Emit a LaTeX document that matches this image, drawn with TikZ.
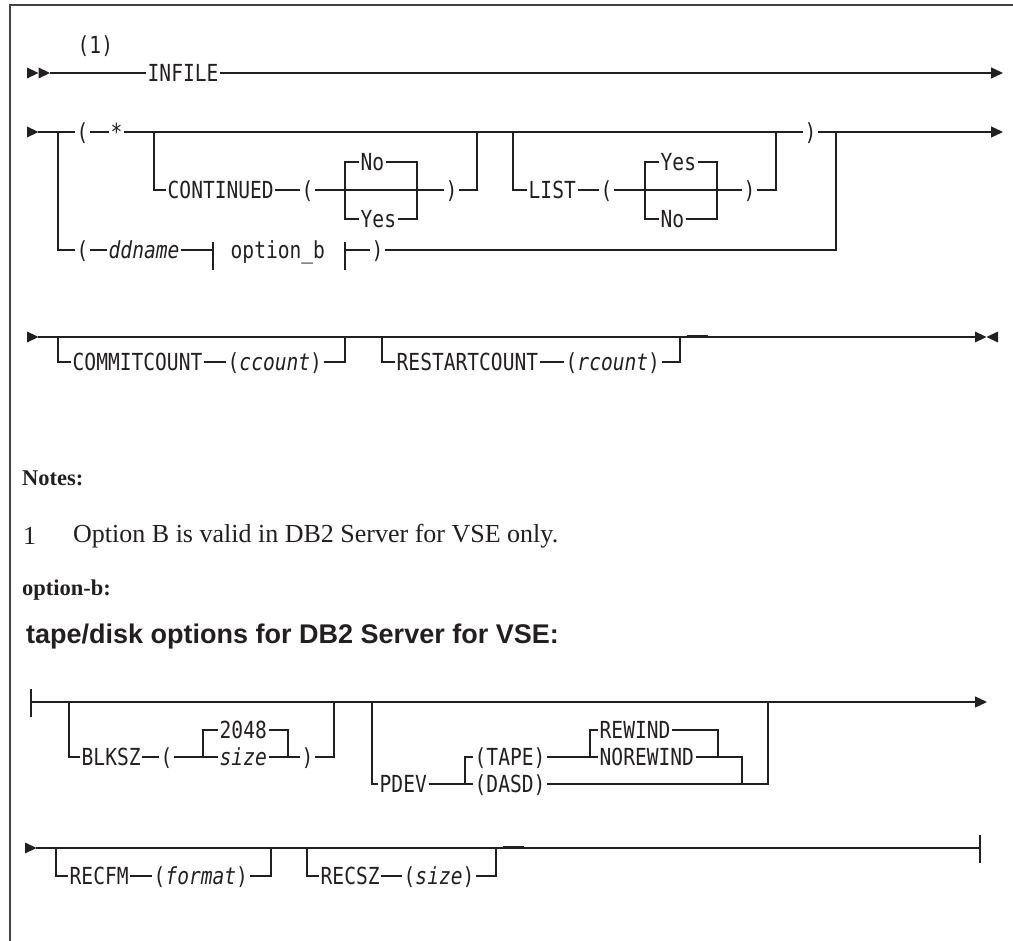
\documentclass[tikz,border=0pt]{standalone}
\usepackage{fontspec}
\usetikzlibrary{arrows.meta,calc}
\newfontfamily\rr[FakeStretch=0.833]{DejaVu Sans Mono}
\newfontfamily\nserif{Liberation Serif}
\newfontfamily\hsans{Liberation Sans}
\definecolor{ink}{HTML}{231F20}
\tikzset{
 ln/.style={draw=ink, line width=1.3pt},
 lbl/.style={font=\rr\fontsize{23.5}{24}\selectfont, text=ink, inner xsep=1.5pt, inner ysep=0pt, text height=17pt, text depth=0pt, anchor=west},
 ilbl/.style={lbl, font=\rr\itshape\fontsize{23.5}{24}\selectfont},
 endarr/.style={ln, -{Triangle[length=12pt,width=11pt]}},
 sarr/.pic={\fill[ink] (0,-5.5) -- (11.5,0) -- (0,5.5) -- cycle;},
 larr/.pic={\fill[ink] (0,-5.5) -- (-11.5,0) -- (0,5.5) -- cycle;},
 note/.style={font=\nserif\fontsize{26}{30}\selectfont, text=ink, anchor=west, inner sep=0pt},
 bnote/.style={font=\nserif\bfseries\fontsize{22.5}{26}\selectfont, text=ink, anchor=west, inner sep=0pt},
 blip/.style={draw=ink, line width=2pt},
}
\begin{document}
\begin{tikzpicture}[x=1pt,y=-1pt]
\useasboundingbox (0,0) rectangle (1013,941);
\draw[draw=ink!85, line width=1.5pt] (1013,5) -- (10,5) -- (10,941);

% Row 1
\pic at (27,73) {sarr}; \pic at (38.5,73) {sarr};
\coordinate (r1s) at (50,73);
\coordinate (r1e) at (1003,73);
\node[lbl] (one) at (76,45) {(1)};
\node[lbl] (infile) at (146,73) {INFILE};
\draw[ln] (r1s) -- (infile.west);
\draw[endarr] (infile.east) -- (r1e);

% Row 2
\pic at (27,132) {sarr};
\coordinate (r2s) at (38,132);
\coordinate (b1) at (58,132);
\node[lbl] (lp1) at (75,132) {(};
\node[lbl] (star) at (109,132) {*};
\coordinate (b2) at (154,132);
\node[lbl] (cont) at (166,190) {CONTINUED};
\node[lbl] (lp2) at (300,190) {(};
\coordinate (c1l) at (345,190);
\coordinate (c1r) at (417,190);
\node[lbl] (no1) at (359,162) {No};
\node[lbl] (yes1) at (359,219) {Yes};
\node[lbl] (rp2) at (444,190) {)};
\coordinate (j1) at (477,132);
\coordinate (b3) at (513,132);
\node[lbl] (list) at (527,190) {LIST};
\node[lbl] (lp3) at (599,190) {(};
\coordinate (c2l) at (645,190);
\coordinate (c2r) at (717,190);
\node[lbl] (yes2) at (659,162) {Yes};
\node[lbl] (no2) at (659,219) {No};
\node[lbl] (rp3) at (742,190) {)};
\coordinate (j2) at (776,132);
\node[lbl] (rp1) at (803,132) {)};
\coordinate (j3) at (836,132);
\coordinate (r2e) at (1003,132);

\draw[ln] (r2s) -- (lp1.west);
\draw[ln] (lp1.east) -- (star.west);
\draw[ln] (star.east) -- (rp1.west);
\draw[endarr] (rp1.east) -- (r2e);
\draw[ln] (b2) |- (cont.west);
\draw[ln] (cont.east) -- (lp2.west);
\draw[ln] (lp2.east) -- (rp2.west);
\draw[ln] (no1.west) -| (c1l |- yes1.west) -- (yes1.west);
\draw[ln] (no1.east) -| (c1r |- yes1.east) -- (yes1.east);
\draw[ln] (rp2.east) -| (j1);
\draw[ln] (b3) |- (list.west);
\draw[ln] (list.east) -- (lp3.west);
\draw[ln] (lp3.east) -- (rp3.west);
\draw[ln] (yes2.west) -| (c2l |- no2.west) -- (no2.west);
\draw[ln] (yes2.east) -| (c2r |- no2.east) -- (no2.east);
\draw[ln] (rp3.east) -| (j2);

% ddname branch
\node[lbl] (lp4) at (75,250) {(};
\node[ilbl] (dd) at (107,250) {ddname};
\coordinate (tk1) at (213,250);
\node[lbl] (optb) at (229,250) {option\_b};
\coordinate (tk2) at (345,250);
\node[lbl] (rp4) at (370,250) {)};
\draw[ln] (b1) |- (lp4.west);
\draw[ln] (lp4.east) -- (dd.west);
\draw[ln] (dd.east) -- (tk1);
\draw[ln] ($(tk1)+(0,-8)$) -- ($(tk1)+(0,20)$);
\draw[ln] ($(tk2)+(0,-8)$) -- ($(tk2)+(0,20)$);
\draw[ln] (tk2) -- (rp4.west);
\draw[ln] (rp4.east) -| (j3);

% Row 3
\pic at (27,337) {sarr};
\coordinate (r3s) at (38,337);
\coordinate (b4) at (58,337);
\node[lbl] (cc) at (71,362) {COMMITCOUNT};
\node[lbl] (ccv) at (226,362) {(\itshape ccount\upshape)};
\coordinate (j4) at (345,337);
\coordinate (b5) at (382,337);
\node[lbl] (rc) at (395,362) {RESTARTCOUNT};
\node[lbl] (rcv) at (564,362) {(\itshape rcount\upshape)};
\coordinate (j5) at (680,337);
\coordinate (r3e) at (975,337);
\draw[ln] (r3s) -- (r3e);
\draw[ln] (b4) |- (cc.west);
\draw[ln] (cc.east) -- (ccv.west);
\draw[ln] (ccv.east) -| (j4);
\draw[ln] (b5) |- (rc.west);
\draw[ln] (rc.east) -- (rcv.west);
\draw[ln] (rcv.east) -| (j5);
\draw[blip] (687,336.3) -- (708,336.3);
\pic at (975,337) {sarr}; \pic at (998,337) {larr};

% Notes
\node[bnote] (notes) at (22,478) {Notes:};
\node[note] (n1) at (23,536) {1};
\node[note] (n1t) at (73,536) {Option B is valid in DB2 Server for VSE only.};
\node[bnote] (ob) at (22,590) {option-b:};
\node[anchor=west, inner sep=0pt, text=ink, font=\hsans\bfseries\fontsize{27}{30}\selectfont] (title) at (26,637) {tape/disk options for DB2 Server for VSE:};

% Row 4
\coordinate (r4s) at (31,702);
\draw[ln] ($(r4s)+(0,-13)$) -- ($(r4s)+(0,15)$);
\draw[blip] (39,702) -- (46,702);
\coordinate (b6) at (69,702);
\node[lbl] (blk) at (80,757) {BLKSZ};
\node[lbl] (lp5) at (159,757) {(};
\coordinate (d1l) at (203,757);
\coordinate (d1r) at (288,757);
\node[lbl] (dflt) at (218,730) {2048};
\node[ilbl] (sz) at (218,757) {size};
\node[lbl] (rp5) at (300,757) {)};
\coordinate (j6) at (334,702);
\coordinate (b7) at (372,702);
\node[lbl] (pdev) at (378,784) {PDEV};
\coordinate (t1l) at (465,784);
\node[lbl] (tp) at (473,757) {(TAPE)};
\node[lbl] (ds) at (473,784) {(DASD)};
\coordinate (w1l) at (590,757);
\coordinate (w1r) at (718,757);
\node[lbl] (rw) at (598,730) {REWIND};
\node[lbl] (nrw) at (598,757) {NOREWIND};
\coordinate (j7) at (742,757);
\coordinate (j8) at (768,702);
\coordinate (r4e) at (987,702);

\draw[endarr] (r4s) -- (r4e);
\draw[ln] (b6) |- (blk.west);
\draw[ln] (blk.east) -- (lp5.west);
\draw[ln] (lp5.east) -- (sz.west);
\draw[ln] (sz.east) -- (rp5.west);
\draw[ln] (dflt.west) -| (d1l);
\draw[ln] (dflt.east) -| (d1r);
\draw[ln] (rp5.east) -| (j6);
\draw[ln] (b7) |- (pdev.west);
\draw[ln] (pdev.east) -- (ds.west);
\draw[ln] (tp.west) -| (t1l);
\draw[ln] (tp.east) -- (nrw.west);
\draw[ln] (rw.west) -| (w1l);
\draw[ln] (rw.east) -| (w1r);
\draw[ln] (nrw.east) -| (j7 |- ds.east);
\draw[ln] (ds.east) -| (j8);

% Row 5
\pic at (25,848) {sarr};
\coordinate (r5s) at (36,848);
\coordinate (b8) at (56,848);
\node[lbl] (rf) at (68,876) {RECFM};
\node[lbl] (rfv) at (152,876) {(\itshape format\upshape)};
\coordinate (j9) at (271,848);
\coordinate (b9) at (307,848);
\node[lbl] (rs) at (319,876) {RECSZ};
\node[lbl] (rsv) at (402,876) {(\itshape size\upshape)};
\coordinate (j10) at (496,848);
\coordinate (r5e) at (980,848);
\draw[ln] (r5s) -- (r5e);
\draw[ln] ($(r5e)+(0,-13)$) -- ($(r5e)+(0,15)$);
\draw[ln] (b8) |- (rf.west);
\draw[ln] (rf.east) -- (rfv.west);
\draw[ln] (rfv.east) -| (j9);
\draw[ln] (b9) |- (rs.west);
\draw[ln] (rs.east) -- (rsv.west);
\draw[ln] (rsv.east) -| (j10);
\draw[blip] (503,847.3) -- (524,847.3);
\end{tikzpicture}
\end{document}
